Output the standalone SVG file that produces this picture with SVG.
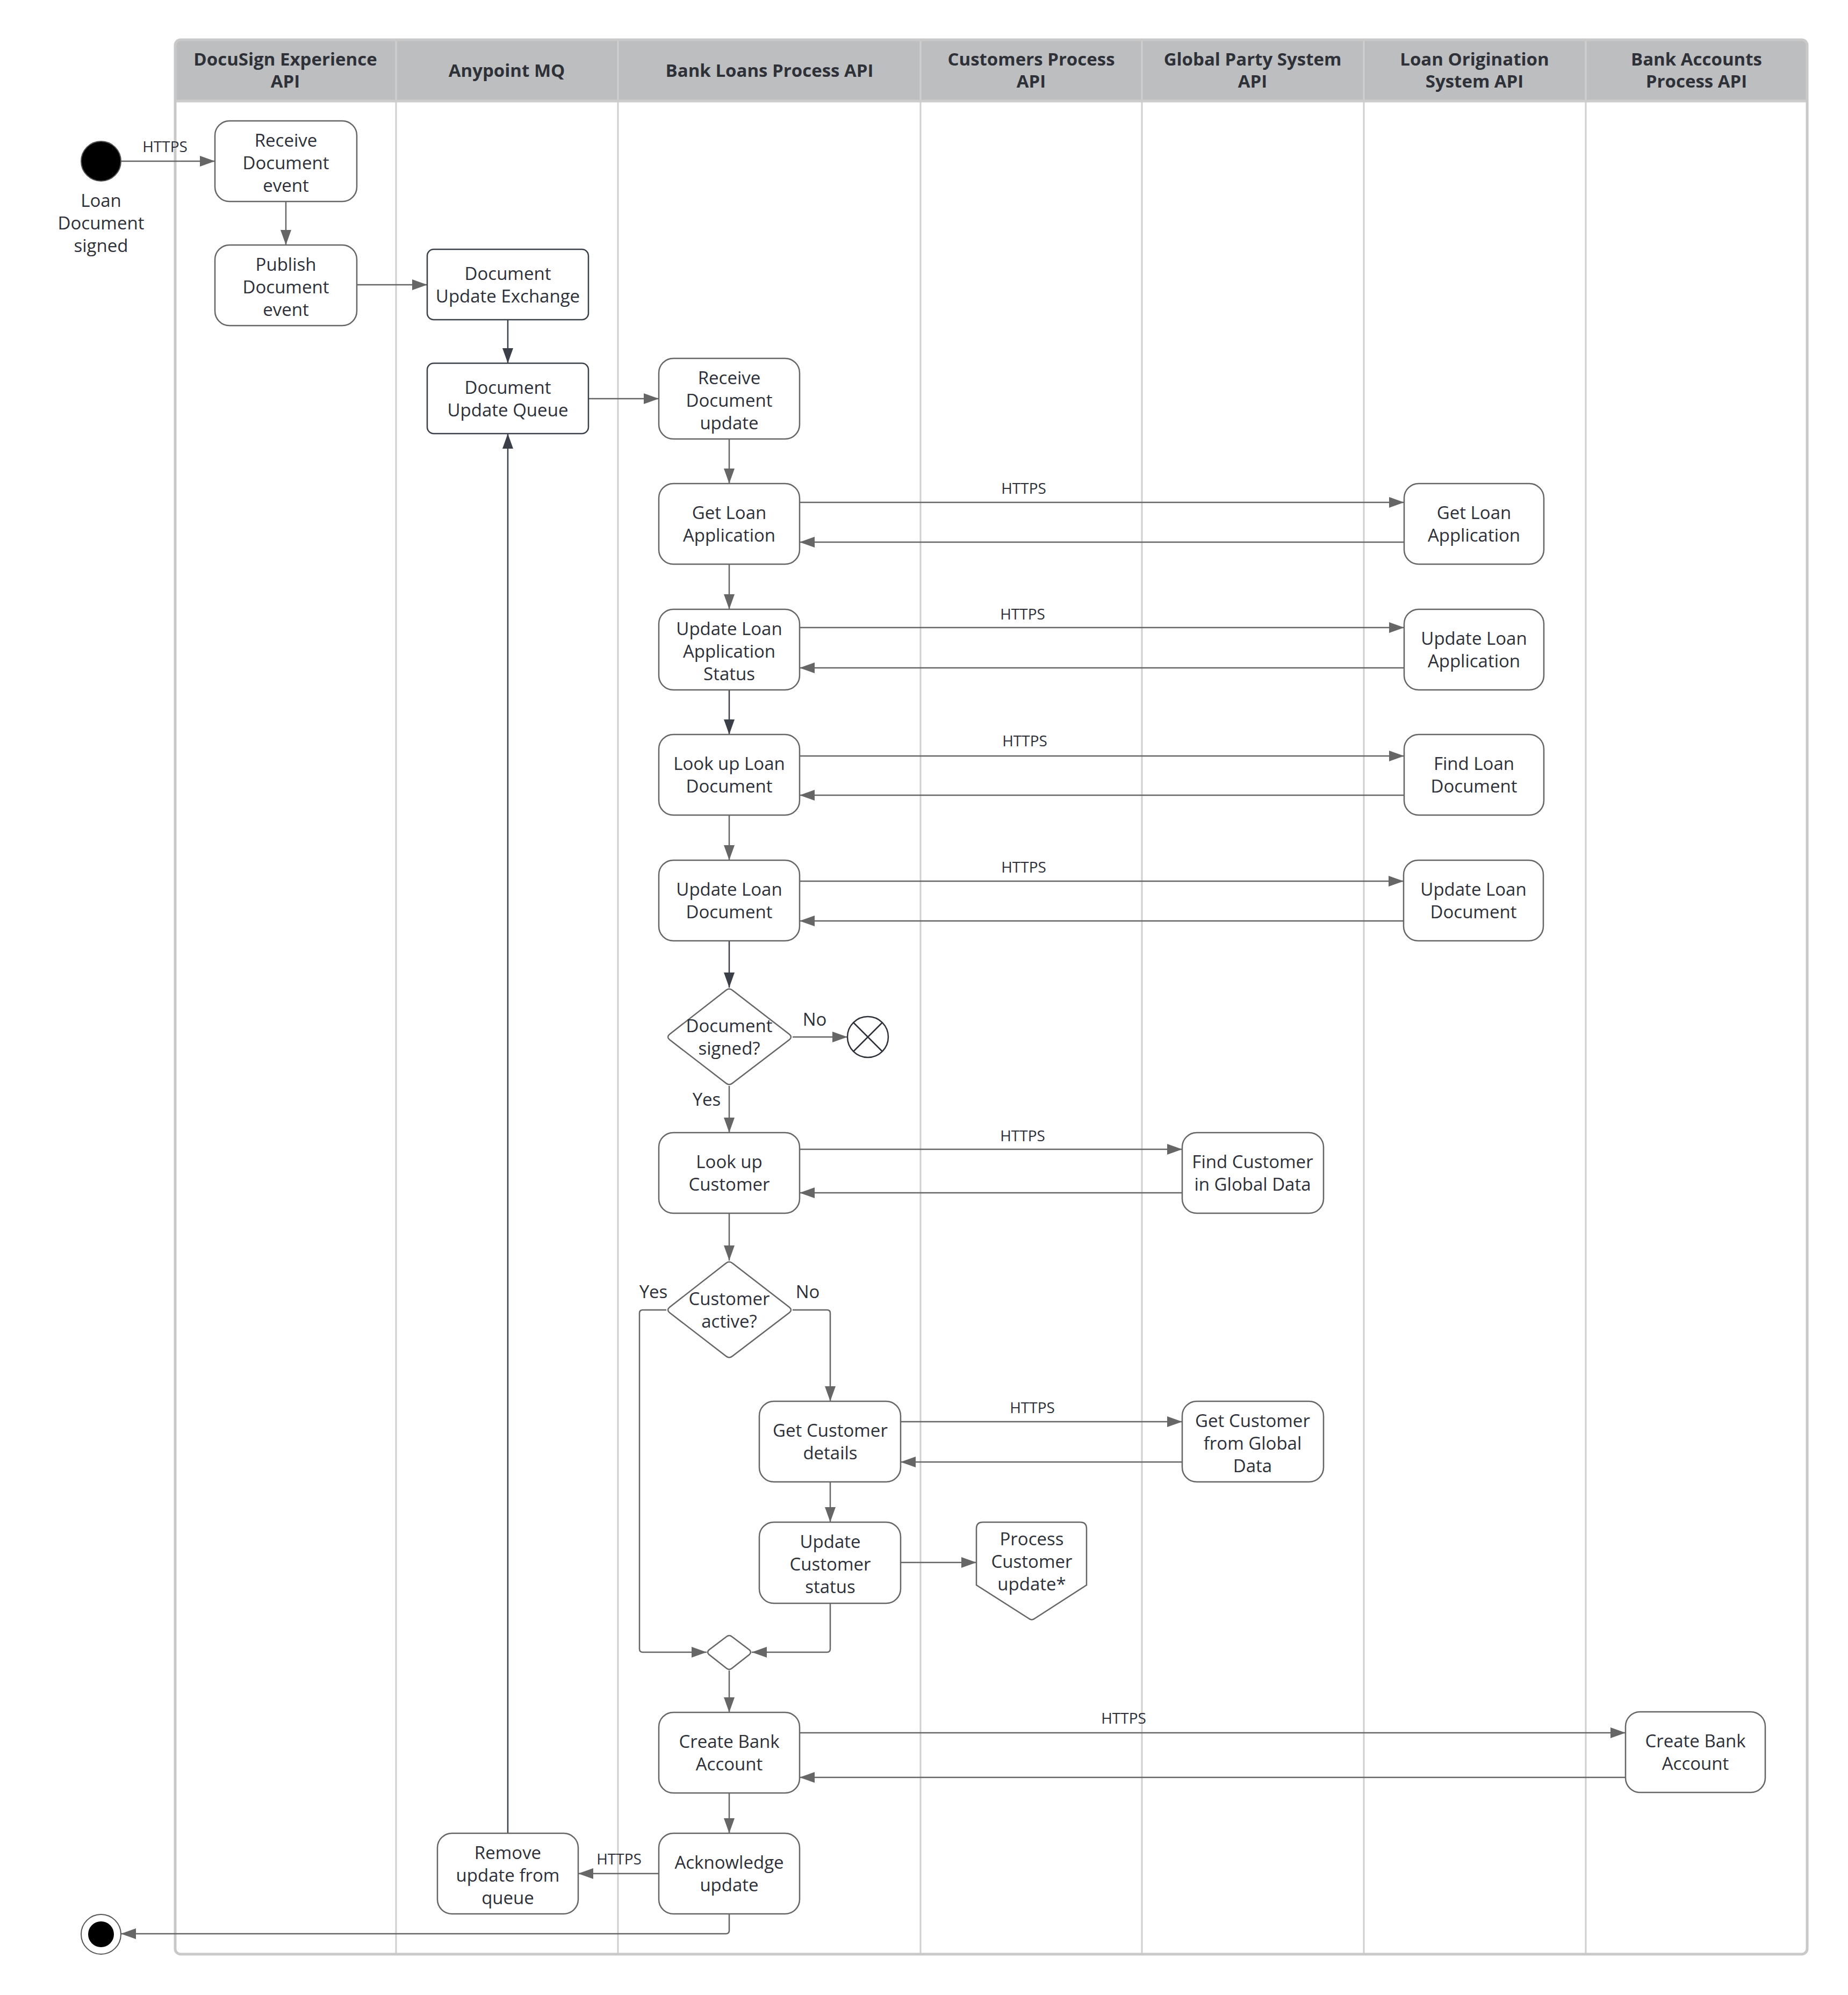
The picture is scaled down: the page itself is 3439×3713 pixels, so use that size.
<svg xmlns="http://www.w3.org/2000/svg" width="3439" height="3713" viewBox="0 0 3439 3713">
<style>
.hdr{font-family:"Open Sans","Noto Sans","Liberation Sans",sans-serif;font-size:33px;font-weight:700;fill:#2e3138;text-anchor:middle}
.t{font-family:"Open Sans","Noto Sans","Liberation Sans",sans-serif;font-size:33px;fill:#2d3038;text-anchor:middle}
.lbl{font-family:"Open Sans","Noto Sans","Liberation Sans",sans-serif;font-size:28px;fill:#2d3038;text-anchor:middle}
.box{fill:#ffffff;stroke:#666666;stroke-width:2.5}
.qbox{fill:#ffffff;stroke:#3a3f48;stroke-width:2.5}
.c{fill:none;stroke:#666666;stroke-width:2.5;marker-end:url(#ah)}
.cd{fill:none;stroke:#3a3f48;stroke-width:2.5;marker-end:url(#ahd)}
.cn{fill:none;stroke:#666666;stroke-width:2.5}
.lane{stroke:#cfcfcf;stroke-width:3}
</style>
<defs>
<marker id="ah" viewBox="0 0 28 20" markerUnits="userSpaceOnUse" markerWidth="28" markerHeight="20" refX="28" refY="10" orient="auto"><path d="M0,0 L28,10 L0,20 Z" fill="#666666"/></marker>
<marker id="ahd" viewBox="0 0 28 20" markerUnits="userSpaceOnUse" markerWidth="28" markerHeight="20" refX="28" refY="10" orient="auto"><path d="M0,0 L28,10 L0,20 Z" fill="#3a3f48"/></marker>
</defs>
<rect width="3439" height="3713" fill="#ffffff"/>
<g id="swimlanes">
<path d="M326,188 V84 Q326,74 336,74 H3353 Q3363,74 3363,84 V188 Z" fill="#bdbec0"/>
<line class="lane" x1="737" y1="74" x2="737" y2="3637"/>
<line class="lane" x1="1150" y1="74" x2="1150" y2="3637"/>
<line class="lane" x1="1713" y1="74" x2="1713" y2="3637"/>
<line class="lane" x1="2125" y1="74" x2="2125" y2="3637"/>
<line class="lane" x1="2538" y1="74" x2="2538" y2="3637"/>
<line class="lane" x1="2951" y1="74" x2="2951" y2="3637"/>
<line x1="326" y1="188" x2="3363" y2="188" stroke="#cccccc" stroke-width="5"/>
<rect x="326" y="74" width="3037" height="3563" rx="10" fill="none" stroke="#c9c9c9" stroke-width="5"/>
<text class="hdr" x="531" y="122">DocuSign Experience</text><text class="hdr" x="531" y="163">API</text>
<text class="hdr" x="943" y="143">Anypoint MQ</text>
<text class="hdr" x="1432" y="143">Bank Loans Process API</text>
<text class="hdr" x="1919" y="122">Customers Process</text><text class="hdr" x="1919" y="163">API</text>
<text class="hdr" x="2331" y="122">Global Party System</text><text class="hdr" x="2331" y="163">API</text>
<text class="hdr" x="2744" y="122">Loan Origination</text><text class="hdr" x="2744" y="163">System API</text>
<text class="hdr" x="3157" y="122">Bank Accounts</text><text class="hdr" x="3157" y="163">Process API</text>
</g>
<g id="connectors">
<path class="c" d="M225,300 H400"/>
<text class="lbl" x="307" y="283">HTTPS</text>
<path class="c" d="M532,375 V456"/>
<path class="c" d="M664,530 H795"/>
<path class="cd" d="M945,595 V676"/>
<path class="c" d="M1095,742 H1226"/>
<path class="c" d="M1357,817 V900"/>
<path class="c" d="M1488,935 H2613"/><path class="c" d="M2613,1009 H1488"/>
<text class="lbl" x="1905" y="919">HTTPS</text>
<path class="c" d="M1357,1050 V1134"/>
<path class="c" d="M1488,1168 H2613"/><path class="c" d="M2613,1243 H1488"/>
<text class="lbl" x="1903" y="1153">HTTPS</text>
<path class="cd" d="M1357,1284 V1367"/>
<path class="c" d="M1488,1407 H2613"/><path class="c" d="M2613,1480 H1488"/>
<text class="lbl" x="1907" y="1389">HTTPS</text>
<path class="c" d="M1357,1517 V1601"/>
<path class="c" d="M1488,1640 H2612"/><path class="c" d="M2612,1714 H1488"/>
<text class="lbl" x="1905" y="1624">HTTPS</text>
<path class="cd" d="M1357,1751 V1838"/>
<path class="c" d="M1475,1930 H1577"/>
<text class="t" x="1516" y="1909">No</text>
<path class="c" d="M1357,2021 V2108"/>
<text class="t" x="1315" y="2058">Yes</text>
<path class="c" d="M1488,2139 H2200"/><path class="c" d="M2200,2220 H1488"/>
<text class="lbl" x="1903" y="2124">HTTPS</text>
<path class="c" d="M1357,2258 V2346"/>
<path class="c" d="M1240,2438 H1196 Q1190,2438 1190,2444 V3069 Q1190,3075 1196,3075 H1315"/>
<text class="t" x="1216" y="2416">Yes</text>
<path class="c" d="M1475,2438 H1539 Q1545,2438 1545,2444 V2608"/>
<text class="t" x="1503" y="2416">No</text>
<path class="c" d="M1676,2646 H2200"/><path class="c" d="M2200,2721 H1676"/>
<text class="lbl" x="1921" y="2630">HTTPS</text>
<path class="c" d="M1545,2758 V2833"/>
<path class="c" d="M1676,2908 H1817"/>
<path class="c" d="M1545,2984 V3069 Q1545,3075 1539,3075 H1399"/>
<path class="c" d="M1357,3109 V3187"/>
<path class="c" d="M1488,3225 H3025"/><path class="c" d="M3025,3308 H1488"/>
<text class="lbl" x="2091" y="3208">HTTPS</text>
<path class="c" d="M1357,3337 V3412"/>
<path class="c" d="M1226,3487 H1076"/>
<text class="lbl" x="1152" y="3470">HTTPS</text>
<path class="cd" d="M945,3412 V807"/>
<path class="c" d="M1357,3562 V3593 Q1357,3599 1351,3599 H225"/>
</g>
<g id="start">
<circle cx="188" cy="300" r="37" fill="#000000" stroke="#555555" stroke-width="2"/>
<text class="t" x="188" y="385">Loan</text><text class="t" x="188" y="427">Document</text><text class="t" x="188" y="469">signed</text>
</g>
<g id="receive-document-event"><rect class="box" x="400" y="225" width="264" height="150" rx="27"/>
<text class="t" x="532" y="273">Receive</text><text class="t" x="532" y="315">Document</text><text class="t" x="532" y="357">event</text></g>
<g id="publish-document-event"><rect class="box" x="400" y="456" width="264" height="150" rx="27"/>
<text class="t" x="532" y="504">Publish</text><text class="t" x="532" y="546">Document</text><text class="t" x="532" y="588">event</text></g>
<g id="document-update-exchange"><rect class="qbox" x="795" y="464" width="300" height="131" rx="12"/>
<text class="t" x="945" y="521">Document</text><text class="t" x="945" y="563">Update Exchange</text></g>
<g id="document-update-queue"><rect class="qbox" x="795" y="676" width="300" height="131" rx="12"/>
<text class="t" x="945" y="733">Document</text><text class="t" x="945" y="775">Update Queue</text></g>
<g id="receive-document-update"><rect class="box" x="1226" y="667" width="262" height="150" rx="27"/>
<text class="t" x="1357" y="715">Receive</text><text class="t" x="1357" y="757">Document</text><text class="t" x="1357" y="799">update</text></g>
<g id="get-loan-application"><rect class="box" x="1226" y="900" width="262" height="150" rx="27"/>
<text class="t" x="1357" y="966">Get Loan</text><text class="t" x="1357" y="1008">Application</text></g>
<g id="update-loan-application-status"><rect class="box" x="1226" y="1134" width="262" height="150" rx="27"/>
<text class="t" x="1357" y="1182">Update Loan</text><text class="t" x="1357" y="1224">Application</text><text class="t" x="1357" y="1266">Status</text></g>
<g id="look-up-loan-document"><rect class="box" x="1226" y="1367" width="262" height="150" rx="27"/>
<text class="t" x="1357" y="1433">Look up Loan</text><text class="t" x="1357" y="1475">Document</text></g>
<g id="update-loan-document"><rect class="box" x="1226" y="1601" width="262" height="150" rx="27"/>
<text class="t" x="1357" y="1667">Update Loan</text><text class="t" x="1357" y="1709">Document</text></g>
<g id="document-signed"><path class="box" d="M1351,1843 Q1357,1838 1363,1843 L1469,1925 Q1475,1930 1469,1935 L1363,2016 Q1357,2021 1351,2016 L1246,1935 Q1240,1930 1246,1925 Z"/>
<text class="t" x="1357" y="1921">Document</text><text class="t" x="1357" y="1963">signed?</text></g>
<g id="flow-final"><circle cx="1615" cy="1930" r="38" fill="#ffffff" stroke="#2d3038" stroke-width="2.5"/>
<path d="M1588,1903 L1642,1957 M1642,1903 L1588,1957" stroke="#2d3038" stroke-width="2.5"/></g>
<g id="look-up-customer"><rect class="box" x="1226" y="2108" width="262" height="150" rx="27"/>
<text class="t" x="1357" y="2174">Look up</text><text class="t" x="1357" y="2216">Customer</text></g>
<g id="customer-active"><path class="box" d="M1351,2351 Q1357,2346 1363,2351 L1469,2433 Q1475,2438 1469,2443 L1363,2524 Q1357,2529 1351,2524 L1246,2443 Q1240,2438 1246,2433 Z"/>
<text class="t" x="1357" y="2429">Customer</text><text class="t" x="1357" y="2471">active?</text></g>
<g id="get-customer-details"><rect class="box" x="1413" y="2608" width="263" height="150" rx="27"/>
<text class="t" x="1545" y="2674">Get Customer</text><text class="t" x="1545" y="2716">details</text></g>
<g id="update-customer-status"><rect class="box" x="1413" y="2833" width="263" height="151" rx="27"/>
<text class="t" x="1545" y="2881">Update</text><text class="t" x="1545" y="2923">Customer</text><text class="t" x="1545" y="2965">status</text></g>
<g id="process-customer-update"><path class="box" d="M1829,2833 H2010 Q2022,2833 2022,2845 V2950 L1926,3012 Q1920,3017 1914,3012 L1817,2950 V2845 Q1817,2833 1829,2833 Z"/>
<text class="t" x="1920" y="2876">Process</text><text class="t" x="1920" y="2918">Customer</text><text class="t" x="1920" y="2960">update*</text></g>
<g id="merge"><path class="box" d="M1352,3046 Q1357,3042 1362,3046 L1395,3071 Q1399,3075 1395,3079 L1362,3105 Q1357,3109 1352,3105 L1319,3079 Q1315,3075 1319,3071 Z"/></g>
<g id="create-bank-account"><rect class="box" x="1226" y="3187" width="262" height="150" rx="27"/>
<text class="t" x="1357" y="3253">Create Bank</text><text class="t" x="1357" y="3295">Account</text></g>
<g id="acknowledge-update"><rect class="box" x="1226" y="3412" width="262" height="150" rx="27"/>
<text class="t" x="1357" y="3478">Acknowledge</text><text class="t" x="1357" y="3520">update</text></g>
<g id="remove-update-from-queue"><rect class="box" x="814" y="3412" width="262" height="150" rx="27"/>
<text class="t" x="945" y="3460">Remove</text><text class="t" x="945" y="3502">update from</text><text class="t" x="945" y="3544">queue</text></g>
<g id="end"><circle cx="188" cy="3600" r="37" fill="#ffffff" stroke="#555555" stroke-width="2"/><circle cx="188" cy="3600" r="24" fill="#000000"/></g>
<g id="los-get-loan-application"><rect class="box" x="2613" y="900" width="260" height="150" rx="27"/>
<text class="t" x="2743" y="966">Get Loan</text><text class="t" x="2743" y="1008">Application</text></g>
<g id="los-update-loan-application"><rect class="box" x="2613" y="1134" width="260" height="150" rx="27"/>
<text class="t" x="2743" y="1200">Update Loan</text><text class="t" x="2743" y="1242">Application</text></g>
<g id="los-find-loan-document"><rect class="box" x="2613" y="1367" width="260" height="150" rx="27"/>
<text class="t" x="2743" y="1433">Find Loan</text><text class="t" x="2743" y="1475">Document</text></g>
<g id="los-update-loan-document"><rect class="box" x="2612" y="1601" width="260" height="150" rx="27"/>
<text class="t" x="2742" y="1667">Update Loan</text><text class="t" x="2742" y="1709">Document</text></g>
<g id="gps-find-customer"><rect class="box" x="2200" y="2108" width="263" height="150" rx="27"/>
<text class="t" x="2331" y="2174">Find Customer</text><text class="t" x="2331" y="2216">in Global Data</text></g>
<g id="gps-get-customer"><rect class="box" x="2200" y="2608" width="263" height="150" rx="27"/>
<text class="t" x="2331" y="2656">Get Customer</text><text class="t" x="2331" y="2698">from Global</text><text class="t" x="2331" y="2740">Data</text></g>
<g id="bap-create-bank-account"><rect class="box" x="3025" y="3186" width="260" height="150" rx="27"/>
<text class="t" x="3155" y="3252">Create Bank</text><text class="t" x="3155" y="3294">Account</text></g>
</svg>
